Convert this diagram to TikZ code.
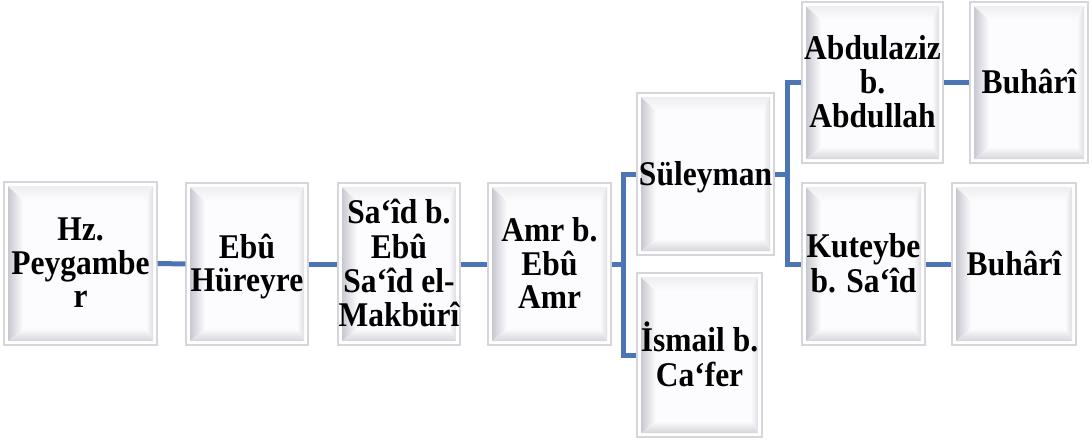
\documentclass[tikz,border=0pt]{standalone}
\usepackage{fontspec}
\setmainfont{Liberation Serif}
\usetikzlibrary{calc}
\definecolor{bordc}{HTML}{D6D6DA}
\definecolor{face}{HTML}{FCFCFE}
\definecolor{bevL}{HTML}{C8C8D1}
\definecolor{bevT}{HTML}{EEEEF1}
\definecolor{bevR}{HTML}{DEDEE3}
\definecolor{bevB}{HTML}{D4D4DA}
\definecolor{linkc}{HTML}{4B75B4}
\newcommand{\tx}[1]{\raisebox{-4pt}[\height][\depth]{\scalebox{1}[1.1]{\begin{tabular}{@{}c@{}}#1\end{tabular}}}}
\tikzset{
  bev/.style={rectangle, draw=bordc, line width=1.3pt, fill=white, align=center,
    inner sep=0pt, font=\bfseries\fontsize{31.5}{30}\selectfont,
    path picture={
      \coordinate (o1) at ($(path picture bounding box.north west)+(4,-4)$);
      \coordinate (o2) at ($(path picture bounding box.north east)+(-4,-4)$);
      \coordinate (o3) at ($(path picture bounding box.south east)+(-4,4)$);
      \coordinate (o4) at ($(path picture bounding box.south west)+(4,4)$);
      \coordinate (i1) at ($(o1)+(15,-14)$);
      \coordinate (i2) at ($(o2)+(-7,-14)$);
      \coordinate (i3) at ($(o3)+(-7,12)$);
      \coordinate (i4) at ($(o4)+(15,12)$);
      \fill[face] (o1) rectangle (o3);
      \shade[left color=bevL, right color=face] (o1) -- (i1) -- (i4) -- (o4) -- cycle;
      \shade[top color=bevT, bottom color=face] (o1) -- (o2) -- (i2) -- (i1) -- cycle;
      \shade[left color=face, right color=bevR] (o2) -- (o3) -- (i3) -- (i2) -- cycle;
      \shade[top color=face, bottom color=bevB] (o4) -- (i4) -- (i3) -- (o3) -- cycle;
    }},
  link/.style={draw=linkc, line width=5pt}
}
\begin{document}
\begin{tikzpicture}[x=1pt,y=1pt]
\useasboundingbox (0,0) rectangle (1092,-439);
\node[bev, minimum width=153, minimum height=163] (b1) at (80.5,-263.5) {\tx{Hz.\\Peygambe\\r}};
\node[bev, minimum width=122, minimum height=162] (b2) at (247,-264) {\tx{Ebû\\Hüreyre}};
\node[bev, minimum width=122, minimum height=162] (b3) at (399,-264) {\tx{Sa‘îd b.\\Ebû\\Sa‘îd el-\\Makbürî}};
\node[bev, minimum width=123, minimum height=162] (b4) at (549.5,-264) {\tx{Amr b.\\Ebû\\Amr}};
\node[bev, minimum width=137, minimum height=162] (b5) at (705.5,-174) {\tx{Süleyman}};
\node[bev, minimum width=125, minimum height=164] (b6) at (699.5,-355) {\tx{İsmail b.\\Ca‘fer}};
\node[bev, minimum width=141, minimum height=161] (b7) at (872.5,-82.5) {\tx{Abdulaziz\\b.\\Abdullah}};
\node[bev, minimum width=118, minimum height=161] (b8) at (1029,-82.5) {\tx{Buhârî}};
\node[bev, minimum width=123, minimum height=162] (b9) at (863.5,-264) {\tx{Kuteybe\\b. Sa‘îd}};
\node[bev, minimum width=124, minimum height=162] (b10) at (1014,-264) {\tx{Buhârî}};
\draw[link] (b1.east) -- (b2.west);
\draw[link] (b2.east) -- (b3.west);
\draw[link] (b3.east) -- (b4.west);
\draw[link] (b4.east) -- ++(12,0) coordinate (j1) |- (b5.west);
\draw[link] (j1) |- (b6.west);
\draw[link] (b5.east) -- ++(13,0) coordinate (j2) |- (b7.west);
\draw[link] (j2) |- (b9.west);
\draw[link] (b7.east) -- (b8.west);
\draw[link] (b9.east) -- (b10.west);
\end{tikzpicture}
\end{document}
